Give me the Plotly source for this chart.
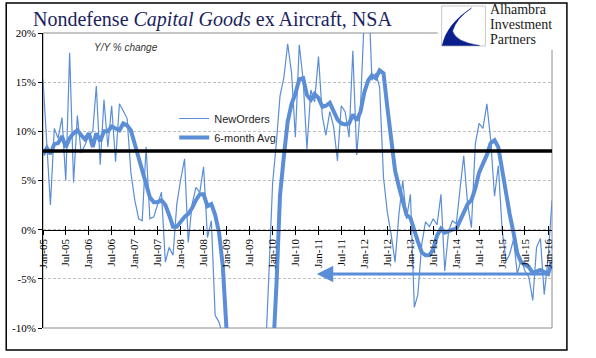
import pandas as pd
import plotly.graph_objects as go

# ---------------- data ----------------
months = pd.date_range("2005-01-01", periods=134, freq="MS")

new_orders = [
    15.3, 8.5, 2.5, 10.3, 9.3, 11.4, 5.0, 18.0, 4.8, 11.6, 7.8, 8.6,          # 2005
    9.6, 10.0, 14.6, 6.6, 13.2, 8.4, 12.6, 6.9, 12.8, 12.1, 11.3, 5.8,        # 2006
    3.0, 1.1, 0.9, 8.4, 1.1, 1.3, 2.6, 3.8, -3.3, -1.8, -2.6, 2.6,            # 2007
    5.1, 7.2, -1.3, 2.6, 4.3, 3.8, 6.4, -0.8, 0.9, -8.7, -9.4, -10.8,         # 2008
    -22.0, -26.0, -25.0, -29.0, -27.0, -30.0, -26.0, -24.0, -23.0, -19.0, -14.0, -5.0,  # 2009
    4.7, 9.0, 13.6, 15.5, 18.9, 15.9, 9.4, 18.8, 15.2, 8.2, 14.2, 13.0,       # 2010
    17.6, 11.5, 9.6, 12.0, 10.5, 7.0, 12.6, 12.0, 9.4, 18.2, 7.6, 12.5,       # 2011
    22.0, 25.0, 15.2, 15.9, 14.5, 5.3, 1.8, -0.5, -3.3, 1.5, 5.0, 1.1,        # 2012
    3.6, -7.9, -6.6, -1.5, 0.8, 0.3, 1.1, 0.5, 3.6, -4.2, -0.1, 0.9,          # 2013
    0.6, 4.3, 7.5, 2.6, 0.2, 8.7, 10.8, 10.3, 12.8, 9.2, 3.4, 6.5,            # 2014
    -0.1, -3.2, -2.5, -1.0, -4.5, -3.0, -4.2, -4.8, -7.2, -1.8, -0.9, -6.6,   # 2015
    -2.9, 3.0,                                                                # 2016
]

avg_6m = [
    7.6, 8.3, 7.7, 8.7, 8.8, 9.5, 8.4, 9.3, 9.8, 10.1, 9.6, 9.2,             # 2005
    9.8, 8.4, 9.8, 9.0, 10.0, 10.0, 10.5, 10.3, 10.1, 10.8, 10.6, 10.1,       # 2006
    8.7, 7.3, 6.0, 4.8, 3.3, 2.8, 2.8, 3.0, 2.5, 1.5, 0.3, 0.3,               # 2007
    0.8, 1.3, 1.6, 2.2, 3.0, 3.6, 3.6, 2.4, 2.6, 1.5, -0.3, -3.7,             # 2008
    -10.5, -15.0, -19.0, -22.0, -24.0, -26.0, -27.0, -26.0, -25.0, -23.0, -20.0, -17.0,  # 2009
    -13.5, -5.5, 3.5, 7.5, 11.0, 12.8, 13.8, 15.3, 15.4, 13.7, 13.2, 13.8,    # 2010
    13.4, 12.5, 12.6, 12.9, 12.1, 11.2, 10.8, 10.7, 10.8, 11.7, 11.1, 12.0,   # 2011
    14.0, 15.2, 15.7, 15.4, 16.2, 15.9, 12.5, 9.0, 6.0, 4.4, 3.0, 1.5,        # 2012
    1.2, -0.2, -1.2, -2.3, -2.6, -2.6, -2.0, -0.6, 0.1, -0.3, -0.1, 0.0,      # 2013
    0.1, 0.9, 1.8, 2.6, 3.0, 4.2, 5.8, 6.6, 7.6, 8.8, 9.1, 8.4,               # 2014
    6.0, 3.5, 1.6, -0.3, -2.4, -3.3, -3.6, -3.8, -4.4, -4.3, -4.1, -4.3,      # 2015
    -4.5, -3.3,                                                               # 2016
]

x_tick_vals = [
    "2005-01-01", "2005-07-01", "2006-01-01", "2006-07-01", "2007-01-01", "2007-07-01",
    "2008-01-01", "2008-07-01", "2009-01-01", "2009-07-01", "2010-01-01", "2010-07-01",
    "2011-01-01", "2011-07-01", "2012-01-01", "2012-07-01", "2013-01-01", "2013-07-01",
    "2014-01-01", "2014-07-01", "2015-01-01", "2015-07-01", "2016-01-01",
]
x_tick_text = [
    "Jan-05", "Jul-05", "Jan-06", "Jul-06", "Jan-07", "Jul-07", "Jan-08", "Jul-08",
    "Jan-09", "Jul-09", "Jan-10", "Jul-10", "Jan-11", "Jul-11", "Jan-12", "Jul-12",
    "Jan-13", "Jul-13", "Jan-14", "Jul-14", "Jan-15", "Jul-15", "Jan-16",
]
y_tick_vals = [-10, -5, 0, 5, 10, 15, 20]
y_tick_text = ["-10%", "-5%", "0%", "5%", "10%", "15%", "20%"]

reference_level = 8.0
arrow_level = -4.5
arrow_start = "2016-01-25"
arrow_end = "2010-12-18"

# ---------------- styling ----------------
W, H = 596, 358
ML, MR, MT, MB = 40, 44, 33, 30
PW, PH = W - ML - MR, H - MT - MB
BLUE = "#5B8ED6"
SERIF = "Liberation Serif, Times New Roman, serif"
SANS = "Liberation Sans, Arial, sans-serif"


def px(xp):
    return (xp - ML) / PW


def py(yp):
    return (H - MB - yp) / PH


fig = go.Figure()
fig.add_trace(go.Scatter(x=months, y=new_orders, name="NewOrders", mode="lines",
                         line=dict(color=BLUE, width=1.2), hoverinfo="skip"))
fig.add_trace(go.Scatter(x=months, y=avg_6m, name="6-month Avg", mode="lines",
                         line=dict(color=BLUE, width=4), hoverinfo="skip"))
# dummy trace so the overlay axis (inner half of cross ticks) is drawn
fig.add_trace(go.Scatter(x=[months[0]], y=[None], xaxis="x2", showlegend=False,
                         hoverinfo="skip", mode="lines"))

shapes = []
# plot area border (gray)
shapes.append(dict(type="rect", xref="paper", yref="paper", x0=0, x1=1, y0=0, y1=1,
                   line=dict(color="#8C8C8C", width=1), layer="below"))
# 8% reference line
shapes.append(dict(type="line", xref="paper", yref="y", x0=0, x1=1,
                   y0=reference_level, y1=reference_level,
                   line=dict(color="black", width=3.5)))
# outer black frame
shapes.append(dict(type="rect", xref="paper", yref="paper",
                   x0=px(3), x1=px(567), y0=py(350), y1=py(3),
                   line=dict(color="black", width=1.5)))
# logo background
shapes.append(dict(type="rect", xref="paper", yref="paper",
                   x0=px(437), x1=px(562), y0=py(50), y1=py(4.5),
                   fillcolor="white", line=dict(width=0)))
# logo square
shapes.append(dict(type="rect", xref="paper", yref="paper",
                   x0=px(441), x1=px(485), y0=py(46), y1=py(6),
                   fillcolor="white", line=dict(color="#C8C8C8", width=1)))


def P(x, y):
    return f"{px(x):.5f},{py(y):.5f}"


swoosh = (f"M {P(471,8)} Q {P(446,24)} {P(441.5,45.5)} L {P(479,45.5)} "
          f"Q {P(455,42)} {P(452,31)} Q {P(456,18)} {P(471,8)} Z")
shapes.append(dict(type="path", xref="paper", yref="paper", path=swoosh,
                   fillcolor="#0A1E8C", line=dict(color="#0A1E8C", width=0.5)))

logo_font = dict(family=SERIF, size=14, color="#1A1A1A")
annotations = [
    dict(text="Nondefense <i>Capital Goods</i> ex Aircraft, NSA", xref="paper", yref="paper",
         x=px(28), y=py(19), xanchor="left", yanchor="middle", showarrow=False,
         font=dict(family=SERIF, size=20, color="#1B1F60")),
    dict(text="<i>Y/Y % change</i>", xref="paper", yref="paper",
         x=px(123), y=py(47), xanchor="center", yanchor="middle", showarrow=False,
         font=dict(family=SANS, size=10, color="#333333")),
    dict(text="Alhambra", xref="paper", yref="paper", x=px(489), y=py(9.5),
         xanchor="left", yanchor="middle", showarrow=False, borderpad=0, font=logo_font),
    dict(text="Investment", xref="paper", yref="paper", x=px(489), y=py(24.5),
         xanchor="left", yanchor="middle", showarrow=False, borderpad=0, font=logo_font),
    dict(text="Partners", xref="paper", yref="paper", x=px(489), y=py(40),
         xanchor="left", yanchor="middle", showarrow=False, borderpad=0, font=logo_font),
    dict(text="", x=arrow_end, y=arrow_level, ax=arrow_start, ay=arrow_level,
         xref="x", yref="y", axref="x", ayref="y", showarrow=True,
         arrowhead=2, arrowsize=1.1, arrowwidth=3, arrowcolor=BLUE),
]

fig.update_layout(
    width=W, height=H,
    margin=dict(l=ML, r=MR, t=MT, b=MB, pad=0),
    paper_bgcolor="white", plot_bgcolor="white",
    showlegend=True,
    legend=dict(x=px(172), y=py(104), xanchor="left", yanchor="top",
                bgcolor="rgba(0,0,0,0)", font=dict(family=SANS, size=11, color="#262626"),
                itemwidth=30, tracegroupgap=0),
    xaxis=dict(type="date", range=["2005-01-01", "2016-02-01"],
               anchor="free", position=1 / 3,
               showline=True, linecolor="black", linewidth=1,
               ticks="outside", ticklen=4, tickcolor="black", tickwidth=1,
               tickvals=x_tick_vals, ticktext=x_tick_text, tickangle=-90,
               tickfont=dict(family=SERIF, size=11, color="black"),
               showgrid=False, zeroline=False),
    xaxis2=dict(type="date", range=["2005-01-01", "2016-02-01"], overlaying="x",
                anchor="free", position=1 / 3, showline=False,
                ticks="inside", ticklen=4, tickcolor="black", tickwidth=1,
                tickvals=x_tick_vals, showticklabels=False,
                showgrid=False, zeroline=False),
    yaxis=dict(range=[-10, 20], domain=[0, 1],
               tickvals=y_tick_vals, ticktext=y_tick_text,
               showgrid=True, gridcolor="#BFBFBF", gridwidth=1, griddash="3px,2px",
               zeroline=False, showline=True, linecolor="black", linewidth=1,
               ticks="outside", ticklen=4, tickcolor="black",
               tickfont=dict(family=SERIF, size=11, color="black")),
    shapes=shapes,
    annotations=annotations,
)

fig.write_html("out.html", config={"displayModeBar": False},
               post_script="document.body.style.margin='0px';")
